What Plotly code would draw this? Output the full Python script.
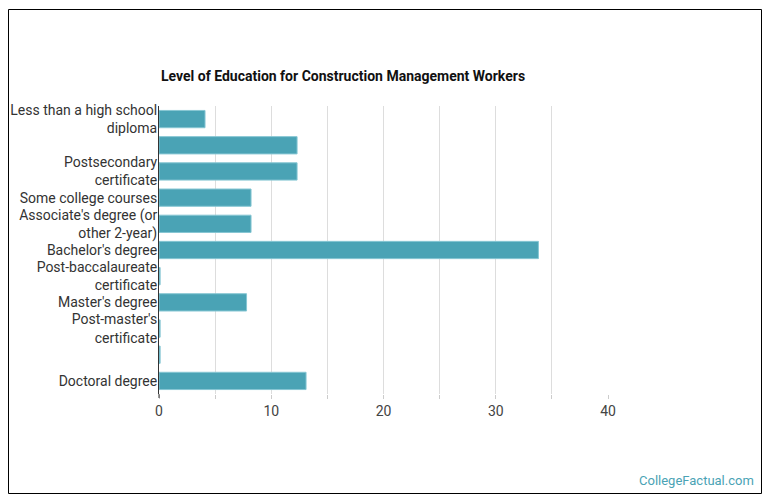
import plotly.graph_objects as go

categories = [
    "Less than a high school diploma",
    "High school diploma",
    "Postsecondary certificate",
    "Some college courses",
    "Associate's degree (or other 2-year)",
    "Bachelor's degree",
    "Post-baccalaureate certificate",
    "Master's degree",
    "Post-master's certificate",
    "First professional degree",
    "Doctoral degree",
]
tick_labels = [
    "Less than a high school<br>diploma",
    "",
    "Postsecondary<br>certificate",
    "Some college courses",
    "Associate's degree (or<br>other 2-year)",
    "Bachelor's degree",
    "Post-baccalaureate<br>certificate",
    "Master's degree",
    "Post-master's<br>certificate",
    "",
    "Doctoral degree",
]
values = [4.1, 12.3, 12.3, 8.2, 8.2, 33.8, 0.1, 7.8, 0.1, 0.1, 13.1]
x_ticks = [0, 10, 20, 30, 40]

W, H = 770, 503
L, R, T, B = 159, 162, 106, 109
pw, ph = W - L - R, H - T - B

def px(x):
    return (x - L) / pw

def py(y):
    return (H - B - y) / ph

fig = go.Figure(go.Bar(
    x=values, y=categories, orientation="h",
    marker=dict(color="#4aa3b5", line=dict(color="#86c6d3", width=1)),
    hoverinfo="x+y",
))

fig.update_layout(
    width=W, height=H,
    margin=dict(l=L, r=R, t=T, b=B, autoexpand=False),
    paper_bgcolor="white", plot_bgcolor="white",
    font=dict(family="Roboto", size=14, color="#333333"),
    bargap=0.34,
    showlegend=False,
    xaxis=dict(
        range=[0, 40], tickvals=x_ticks, ticktext=[str(v) for v in x_ticks],
        showgrid=True, gridcolor="#dddddd", gridwidth=1,
        ticks="outside", ticklen=4, tickcolor="#cccccc",
        minor=dict(dtick=5, showgrid=True, gridcolor="#dddddd", ticks="outside", ticklen=4, tickcolor="#cccccc"),
        zeroline=False, showline=False, automargin=False,
        tickfont=dict(family="Roboto", size=14, color="#444444"),
        fixedrange=True,
    ),
    yaxis=dict(
        autorange="reversed",
        tickvals=categories, ticktext=tick_labels,
        showline=True, linecolor="#333333", linewidth=1,
        ticks="", showgrid=False, automargin=False,
        ticklabelstandoff=-2,
        tickfont=dict(family="Roboto", size=14, color="#333333"),
        fixedrange=True,
    ),
    shapes=[
        dict(type="rect", xref="paper", yref="paper",
             x0=px(8.5), x1=px(761.5), y0=py(493.5), y1=py(9.5),
             line=dict(color="#000000", width=1), fillcolor="rgba(0,0,0,0)", layer="below"),
        dict(type="line", xref="paper", yref="paper",
             x0=0, x1=0, y0=py(398), y1=0,
             line=dict(color="#333333", width=1)),
    ],
    annotations=[
        dict(text="<b>Level of Education for Construction Management Workers</b>",
             xref="paper", yref="paper", x=0, y=py(76), xanchor="left", yanchor="middle",
             showarrow=False, font=dict(family="Roboto", size=14, color="#111111")),
        dict(text="CollegeFactual.com",
             xref="paper", yref="paper", x=px(756), y=py(480), xanchor="right", yanchor="middle",
             showarrow=False, font=dict(family="Roboto", size=13, color="#4aa3b5")),
    ],
)

fig.write_html("out.html")
